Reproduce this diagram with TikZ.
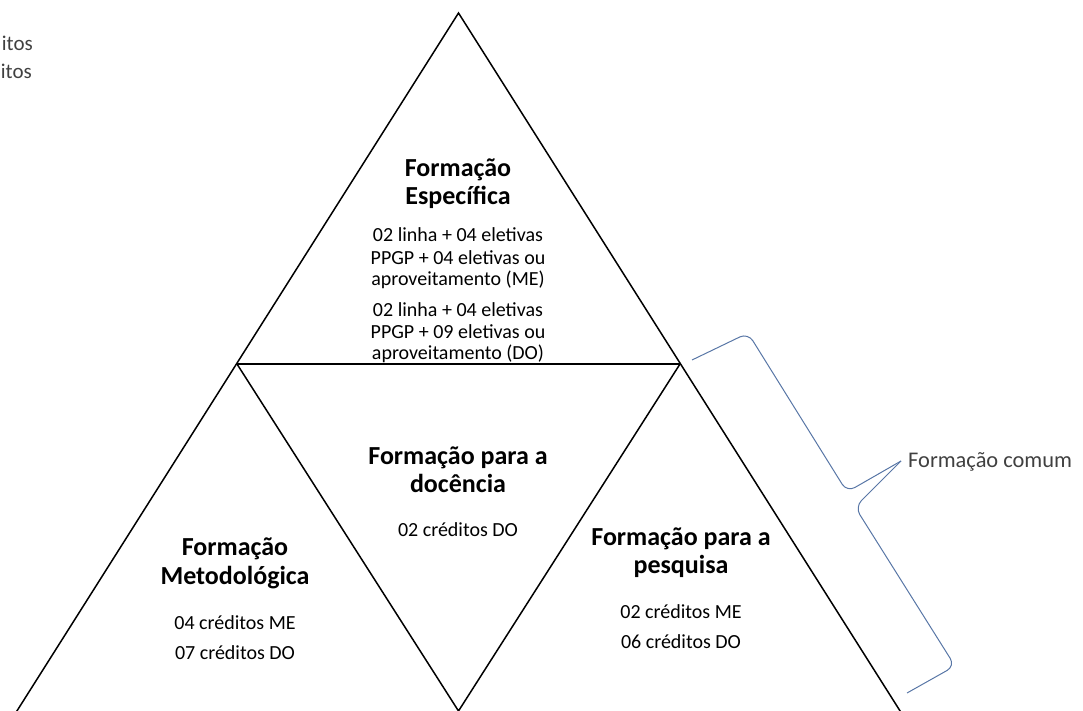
\documentclass[tikz,border=0pt]{standalone}
\usepackage{fontspec}
\setmainfont{Carlito}
\definecolor{sidegray}{RGB}{64,64,64}
\definecolor{bracecol}{RGB}{88,118,166}
\begin{document}
\begin{tikzpicture}[x=1pt,y=-1pt,
  edge/.style={line width=1.5pt, draw=black, line join=miter},
  ttl/.style={font=\fontsize{26}{28}\selectfont\bfseries, anchor=base, inner sep=0pt, text=black},
  bod/.style={font=\fontsize{20}{22}\selectfont, anchor=base, inner sep=0pt, text=black},
  side/.style={font=\fontsize{22.4}{26}\selectfont, text=sidegray, inner sep=0pt, anchor=base west},
  corner/.style={font=\fontsize{21}{26}\selectfont, text=sidegray, inner sep=0pt, anchor=base east},
  bracepath/.style={draw=bracecol, line width=1pt, rounded corners=9pt}]
\useasboundingbox (0,0) rectangle (1083,711);
% vertices
\coordinate (A) at (458.5,13);
\coordinate (L) at (237,364);
\coordinate (R) at (680,364);
\coordinate (BL) at (15,714);
\coordinate (BM) at (458.5,711);
\coordinate (BR) at (902,714);
% triangles
\draw[edge] (BL) -- (A) -- (BR);
\draw[edge] (L) -- (R);
\draw[edge] (L) -- (BM) -- (R);
% Formacao Especifica
\node[ttl] (e1) at (458,177) {Formação};
\node[ttl] (e2) at (458,205) {Específica};
\node[bod] (e3) at (458,242) {02 linha + 04 eletivas};
\node[bod] (e4) at (458,264) {PPGP + 04 eletivas ou};
\node[bod] (e5) at (458,285) {aproveitamento (ME)};
\node[bod] (e6) at (458,316) {02 linha + 04 eletivas};
\node[bod] (e7) at (458,338) {PPGP + 09 eletivas ou};
\node[bod] (e8) at (458,359) {aproveitamento (DO)};
% Formacao para a docencia
\node[ttl] (d1) at (458,464) {Formação para a};
\node[ttl] (d2) at (458,492) {docência};
\node[bod] (d3) at (458,536) {02 créditos DO};
% Formacao Metodologica
\node[ttl] (m1) at (235,555) {Formação};
\node[ttl] (m2) at (235,584) {Metodológica};
\node[bod] (m3) at (235,629) {04 créditos ME};
\node[bod] (m4) at (235,659) {07 créditos DO};
% Formacao para a pesquisa
\node[ttl] (p1) at (681,545) {Formação para a};
\node[ttl] (p2) at (681,573) {pesquisa};
\node[bod] (p3) at (681,618) {02 créditos ME};
\node[bod] (p4) at (681,648) {06 créditos DO};
% corner texts (cut at the left edge in the reference)
\node[corner] (c1) at (33,51) {itos};
\node[corner] (c2) at (32,79) {itos};
% brace and its label
\coordinate (T) at (901,461);
\node[side] (fc) at (908,467) {Formação comum};
\draw[bracepath] (T) -- (847,492) -- (748,333) -- (692,360);
\draw[bracepath] (T) -- (855,507) -- (955,666) -- (907,693);
\end{tikzpicture}
\end{document}
